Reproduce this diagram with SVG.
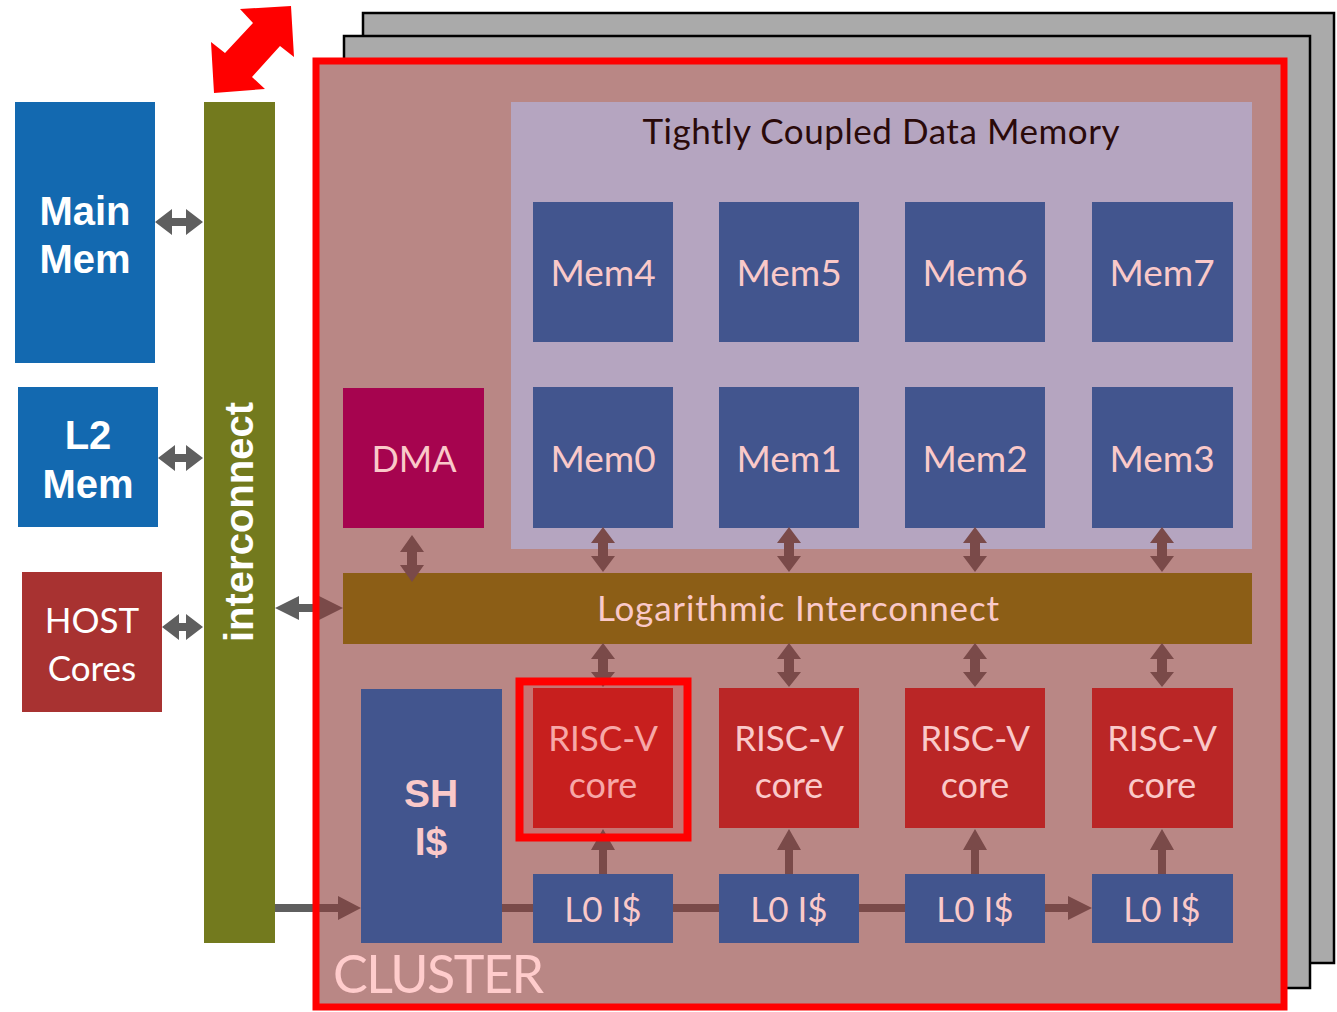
<svg xmlns="http://www.w3.org/2000/svg" width="1337" height="1012" viewBox="0 0 1337 1012">
<style>
.cal{font-family:Lato,"Open Sans","Liberation Sans",sans-serif}
.ar{font-family:"Liberation Sans",Arial,sans-serif;font-weight:bold}
.pk{fill:#FAC9C9}
.wt{fill:#FFFFFF}
.mem{fill:#42558E}
.core{fill:#BA2626}
.gray{fill:#5F5F5F}
.brn{fill:#7A4A49}
.back{fill:#AAAAAA;stroke:#000;stroke-width:2.5}
</style>
<rect width="1337" height="1012" fill="#FFFFFF"/>
<g id="stack">
<rect class="back" x="363" y="13" width="971" height="950"/>
<rect class="back" x="344" y="36" width="966" height="952"/>
</g>
<g id="cluster-bg"><rect x="316" y="61" width="968" height="946" fill="#B98785"/></g>
<g id="tcdm">
<rect x="511" y="102" width="741" height="447" fill="#B5A5C0"/>
<text class="cal" x="881" y="144" font-size="35" text-anchor="middle" fill="#2A0A0A" textLength="477">Tightly Coupled Data Memory</text>
</g>
<g id="mem4"><rect class="mem" x="533" y="202" width="140" height="140"/><text class="cal pk" x="603" y="286" font-size="37" text-anchor="middle">Mem4</text></g>
<g id="mem5"><rect class="mem" x="719" y="202" width="140" height="140"/><text class="cal pk" x="789" y="286" font-size="37" text-anchor="middle">Mem5</text></g>
<g id="mem6"><rect class="mem" x="905" y="202" width="140" height="140"/><text class="cal pk" x="975" y="286" font-size="37" text-anchor="middle">Mem6</text></g>
<g id="mem7"><rect class="mem" x="1092" y="202" width="141" height="140"/><text class="cal pk" x="1162" y="286" font-size="37" text-anchor="middle">Mem7</text></g>
<g id="mem0"><rect class="mem" x="533" y="387" width="140" height="141"/><text class="cal pk" x="603" y="472" font-size="37" text-anchor="middle">Mem0</text></g>
<g id="mem1"><rect class="mem" x="719" y="387" width="140" height="141"/><text class="cal pk" x="789" y="472" font-size="37" text-anchor="middle">Mem1</text></g>
<g id="mem2"><rect class="mem" x="905" y="387" width="140" height="141"/><text class="cal pk" x="975" y="472" font-size="37" text-anchor="middle">Mem2</text></g>
<g id="mem3"><rect class="mem" x="1092" y="387" width="141" height="141"/><text class="cal pk" x="1162" y="472" font-size="37" text-anchor="middle">Mem3</text></g>
<g id="dma"><rect x="343" y="388" width="141" height="140" fill="#A6044F"/><text class="cal pk" x="414" y="472" font-size="36" text-anchor="middle">DMA</text></g>
<g id="log-interconnect"><rect x="343" y="573" width="909" height="71" fill="#8C5E16"/><text class="cal pk" x="798" y="621" font-size="35" text-anchor="middle" textLength="402">Logarithmic Interconnect</text></g>
<g id="core0">
<rect x="523" y="686" width="161" height="148" fill="#C77472"/>
<rect x="533" y="688" width="140" height="140" fill="#C71F1E"/>
<text class="cal" x="603" y="751" font-size="35" text-anchor="middle" fill="#F7A7A7">RISC-V</text>
<text class="cal" x="603" y="798" font-size="36" text-anchor="middle" fill="#F7A7A7">core</text>
</g>
<g id="core1"><rect class="core" x="719" y="688" width="140" height="140"/><text class="cal pk" x="789" y="751" font-size="35" text-anchor="middle">RISC-V</text><text class="cal pk" x="789" y="798" font-size="36" text-anchor="middle">core</text></g>
<g id="core2"><rect class="core" x="905" y="688" width="140" height="140"/><text class="cal pk" x="975" y="751" font-size="35" text-anchor="middle">RISC-V</text><text class="cal pk" x="975" y="798" font-size="36" text-anchor="middle">core</text></g>
<g id="core3"><rect class="core" x="1092" y="688" width="141" height="140"/><text class="cal pk" x="1162" y="751" font-size="35" text-anchor="middle">RISC-V</text><text class="cal pk" x="1162" y="798" font-size="36" text-anchor="middle">core</text></g>
<g id="sh-icache"><rect class="mem" x="361" y="689" width="141" height="254"/><text class="ar pk" x="431" y="807" font-size="39" text-anchor="middle">SH</text><text class="ar pk" x="431" y="855" font-size="39" text-anchor="middle">I$</text></g>
<g id="l0-0"><rect class="mem" x="533" y="874" width="140" height="69"/><text class="cal pk" x="603" y="922" font-size="35" text-anchor="middle">L0 I$</text></g>
<g id="l0-1"><rect class="mem" x="719" y="874" width="140" height="69"/><text class="cal pk" x="789" y="922" font-size="35" text-anchor="middle">L0 I$</text></g>
<g id="l0-2"><rect class="mem" x="905" y="874" width="140" height="69"/><text class="cal pk" x="975" y="922" font-size="35" text-anchor="middle">L0 I$</text></g>
<g id="l0-3"><rect class="mem" x="1092" y="874" width="141" height="69"/><text class="cal pk" x="1162" y="922" font-size="35" text-anchor="middle">L0 I$</text></g>
<g id="main-mem"><rect x="15" y="102" width="140" height="261" fill="#1369B0"/><text class="ar wt" x="85" y="225" font-size="40" text-anchor="middle">Main</text><text class="ar wt" x="85" y="273" font-size="40" text-anchor="middle">Mem</text></g>
<g id="l2-mem"><rect x="18" y="387" width="140" height="140" fill="#1369B0"/><text class="ar wt" x="88" y="449" font-size="40" text-anchor="middle">L2</text><text class="ar wt" x="88" y="498" font-size="40" text-anchor="middle">Mem</text></g>
<g id="host-cores"><rect x="22" y="572" width="140" height="140" fill="#A83231"/><text class="cal wt" x="92" y="633" font-size="35" text-anchor="middle">HOST</text><text class="cal wt" x="92" y="681" font-size="35" text-anchor="middle">Cores</text></g>
<g id="interconnect"><rect x="204" y="102" width="71" height="841" fill="#737A1E"/><text class="ar wt" transform="translate(253,522) rotate(-90)" font-size="40" text-anchor="middle">interconnect</text></g>
<g id="connectors">
<polygon fill="#FF0000" points="240,9 291,6 294,57 280,46 252,77 265,89 214,93 211,42 225,53 253,23"/>
<polygon class="gray" points="155,222 172,209 172,218 186,218 186,209 203,222 186,235 186,226 172,226 172,235"/>
<polygon class="gray" points="158,458 175,445 175,454 186,454 186,445 203,458 186,471 186,462 175,462 175,471"/>
<polygon class="gray" points="162,627 179,614 179,623 186,623 186,614 203,627 186,640 186,631 179,631 179,640"/>
<polygon class="gray" points="275,608 299,596 299,604 316,604 316,612 299,612 299,620"/>
<polygon class="brn" points="316,604 319,604 319,596 343,608 319,620 319,612 316,612"/>
<rect class="gray" x="275" y="904" width="41" height="8"/>
<polygon class="brn" points="316,904 338,904 338,896 361,908 338,920 338,912 316,912"/>
<rect class="brn" x="502" y="904" width="31" height="8"/>
<rect class="brn" x="673" y="904" width="46" height="8"/>
<rect class="brn" x="859" y="904" width="46" height="8"/>
<polygon class="brn" points="1045,904 1068,904 1068,896 1092,908 1068,920 1068,912 1045,912"/>
<polygon class="brn" points="412,535 424,552 417,552 417,565 424,565 412,582 400,565 407,565 407,552 400,552"/>
<polygon class="brn" points="603,527 615,543 608,543 608,556 615,556 603,572 591,556 598,556 598,543 591,543"/>
<polygon class="brn" points="789,527 801,543 794,543 794,556 801,556 789,572 777,556 784,556 784,543 777,543"/>
<polygon class="brn" points="975,527 987,543 980,543 980,556 987,556 975,572 963,556 970,556 970,543 963,543"/>
<polygon class="brn" points="1162,527 1174,543 1167,543 1167,556 1174,556 1162,572 1150,556 1157,556 1157,543 1150,543"/>
<polygon class="brn" points="603,643 615,659 608,659 608,672 615,672 603,687 591,672 598,672 598,659 591,659"/>
<polygon class="brn" points="789,643 801,659 794,659 794,672 801,672 789,687 777,672 784,672 784,659 777,659"/>
<polygon class="brn" points="975,643 987,659 980,659 980,672 987,672 975,687 963,672 970,672 970,659 963,659"/>
<polygon class="brn" points="1162,643 1174,659 1167,659 1167,672 1174,672 1162,687 1150,672 1157,672 1157,659 1150,659"/>
<polygon class="brn" points="603,829 615,850 607,850 607,874 599,874 599,850 591,850"/>
<polygon class="brn" points="789,829 801,850 793,850 793,874 785,874 785,850 777,850"/>
<polygon class="brn" points="975,829 987,850 979,850 979,874 971,874 971,850 963,850"/>
<polygon class="brn" points="1162,829 1174,850 1166,850 1166,874 1158,874 1158,850 1150,850"/>
</g>
<g id="core0-frame"><rect x="519.5" y="681.5" width="168" height="156" fill="none" stroke="#FF0000" stroke-width="8"/></g>
<g id="cluster"><rect x="316" y="61" width="968" height="946" fill="none" stroke="#FF0000" stroke-width="7"/>
<text class="cal" x="333" y="993" font-size="52" fill="#FFCCCC" textLength="211">CLUSTER</text></g>
</svg>
